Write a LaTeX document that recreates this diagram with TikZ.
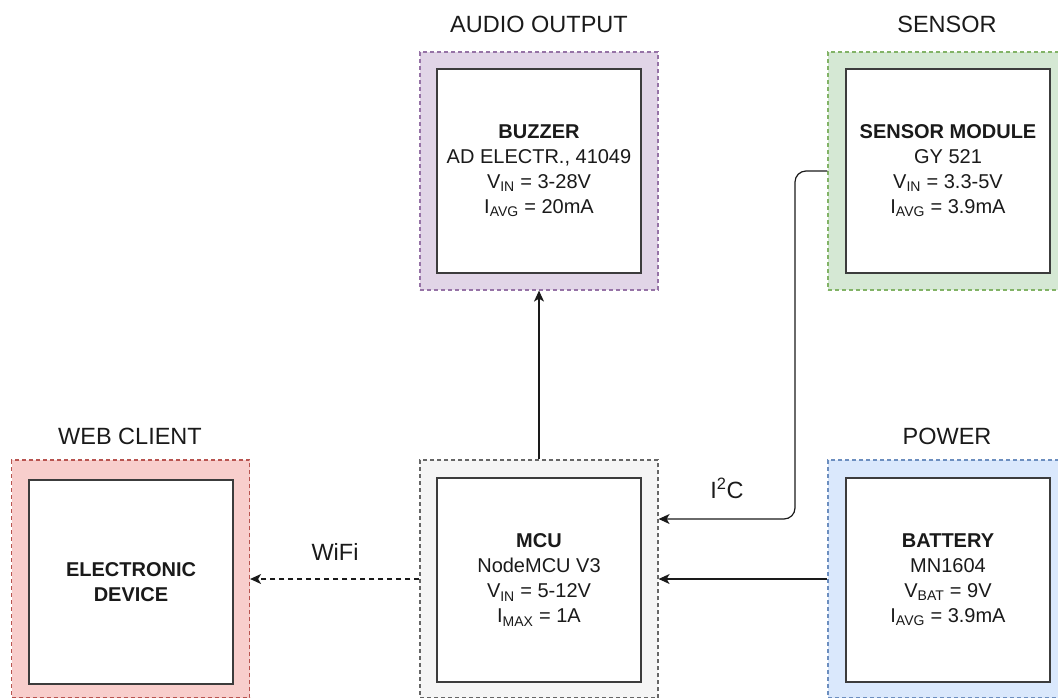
\documentclass[tikz,border=0pt]{standalone}
\usepackage{fontspec}
\setmainfont{Liberation Sans}
\usetikzlibrary{arrows.meta}
\definecolor{pFill}{HTML}{E1D5E7}\definecolor{pLine}{HTML}{9673A6}
\definecolor{gFill}{HTML}{D5E8D4}\definecolor{gLine}{HTML}{82B366}
\definecolor{rFill}{HTML}{F8CECC}\definecolor{rLine}{HTML}{B85450}
\definecolor{kFill}{HTML}{F5F5F5}\definecolor{kLine}{HTML}{666666}
\definecolor{bFill}{HTML}{DAE8FC}\definecolor{bLine}{HTML}{6C8EBF}
\definecolor{ink}{HTML}{1A1A1A}
\tikzset{
  outerbox/.style={draw=#1Line, fill=#1Fill, line width=1.2pt, dash pattern=on 4pt off 3pt,
    minimum width=238pt, minimum height=238pt, inner sep=0pt},
  innerbox/.style={draw=ink!85, fill=white, line width=1.8pt, minimum width=204pt,
    minimum height=204pt, inner sep=0pt, align=center, text=ink,
    font=\fontsize{20}{25}\selectfont},
  titletext/.style={text=ink, font=\fontsize{23.5}{28}\selectfont, inner sep=0pt},
  conn/.style={draw=ink, line width=1.2pt, -{Stealth[length=11pt,width=10pt,inset=3pt]}}
}
\begin{document}
\begin{tikzpicture}[x=1pt,y=-1pt]
\useasboundingbox (0,0) rectangle (1058,697);
\clip (0,0) rectangle (1058,697);
% containers
\node[outerbox=p] (audO) at (539,171) {};
\node[outerbox=g] (senO) at (947,171) {};
\node[outerbox=r] (webO) at (130.5,579) {};
\node[outerbox=k] (mcuO) at (539,579) {};
\node[outerbox=b] (powO) at (947,579) {};
% inner boxes
\node[innerbox] (aud) at (539,171) {\textbf{BUZZER}\\AD ELECTR., 41049\\V\textsubscript{IN} = 3-28V\\I\textsubscript{AVG} = 20mA};
\node[innerbox] (sen) at (948,171) {\textbf{SENSOR MODULE}\\GY 521\\V\textsubscript{IN} = 3.3-5V\\I\textsubscript{AVG} = 3.9mA};
\node[innerbox] (web) at (131,582) {\textbf{ELECTRONIC}\\\textbf{DEVICE}};
\node[innerbox] (mcu) at (539,580) {\textbf{MCU}\\NodeMCU V3\\V\textsubscript{IN} = 5-12V\\I\textsubscript{MAX} = 1A};
\node[innerbox] (pow) at (948,580) {\textbf{BATTERY}\\MN1604\\V\textsubscript{BAT} = 9V\\I\textsubscript{AVG} = 3.9mA};
% titles
\node[titletext] (tAud) at (539,24) {AUDIO OUTPUT};
\node[titletext] (tSen) at (947,24) {SENSOR};
\node[titletext] (tWeb) at (130,436) {WEB CLIENT};
\node[titletext] (tPow) at (947,436) {POWER};
% connectors
\coordinate (bend) at (795,519);
\draw[conn] (mcuO.north) -- (audO.south);
\draw[conn, dashed, dash pattern=on 5pt off 4pt] (mcuO.west) -- (webO.east);
\draw[conn] (powO.west) -- (mcuO.east);
\draw[conn, rounded corners=11pt] (senO.west) -| (bend) -- (mcuO.east |- bend);
% labels
\node[titletext] (lWifi) at (335,552) {WiFi};
\node[titletext] (lI2C) at (727,488) {I\textsuperscript{2}C};
\end{tikzpicture}
\end{document}
